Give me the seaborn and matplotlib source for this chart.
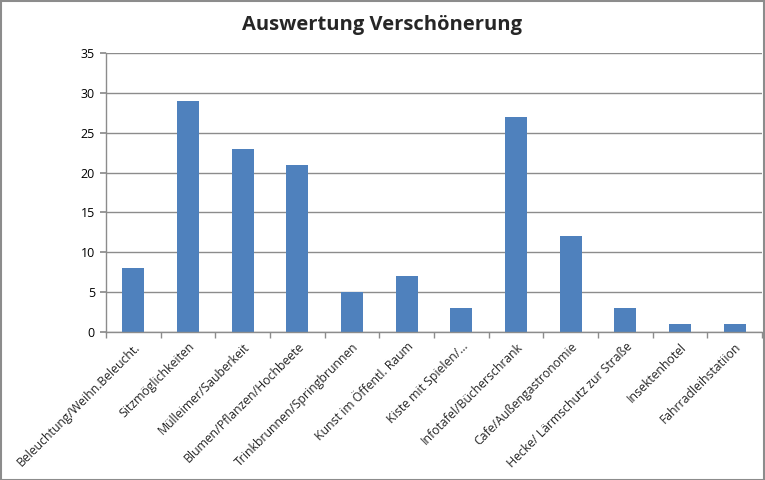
import matplotlib
matplotlib.use("Agg")
import matplotlib.pyplot as plt
import seaborn as sns
import pandas as pd
import numpy as np
from matplotlib.ticker import FixedLocator

categories = ["Beleuchtung/Weihn.Beleucht.", "Sitzmöglichkeiten", "Mülleimer/Sauberkeit",
              "Blumen/Pflanzen/Hochbeete", "Trinkbrunnen/Springbrunnen", "Kunst im Öffentl. Raum",
              "Kiste mit Spielen/...", "Infotafel/Bücherschrank", "Cafe/Außengastronomie",
              "Hecke/ Lärmschutz zur Straße", "Insektenhotel", "Fahrradleihstatiion"]
values = [8, 29, 23, 21, 5, 7, 3, 27, 12, 3, 1, 1]
yticks = [0, 5, 10, 15, 20, 25, 30, 35]
title = "Auswertung Verschönerung"

sns.set_theme(style="white")
plt.rcParams['font.family'] = ['Open Sans', 'DejaVu Sans']

df = pd.DataFrame({"cat": categories, "val": values})
fig = plt.figure(figsize=(7.65, 4.8), dpi=100)
ax = fig.add_axes([106/765, 1-332/480, (762-106)/765, (332-53)/480])
sns.barplot(data=df, x="cat", y="val", color="#4F81BD", width=0.4, saturation=1,
            linewidth=0, ax=ax)

ax.set_ylim(0, 35)
ax.set_xlim(-0.5, len(categories)-0.5)
ax.set_yticks(yticks)
ax.set_yticklabels([str(t) for t in yticks], fontsize=9, color="black")
ax.yaxis.grid(True, color="#8c8c8c", linewidth=1)
ax.set_axisbelow(True)
ax.set_xlabel("")
ax.set_ylabel("")
ax.set_xticks(range(len(categories)))
ax.set_xticklabels(categories, rotation=45, ha="right", rotation_mode="anchor", fontsize=8.8)
ax.tick_params(axis="x", which="major", length=0, pad=6)
ax.xaxis.set_minor_locator(FixedLocator(np.arange(-0.5, len(categories), 1)))
ax.tick_params(axis="x", which="minor", length=4, color="#8c8c8c", bottom=True)
ax.tick_params(axis="y", length=4, color="#8c8c8c", left=True, pad=4)
for s in ["top", "right"]:
    ax.spines[s].set_visible(False)
for s in ["left", "bottom"]:
    ax.spines[s].set_color("#8c8c8c")
    ax.spines[s].set_linewidth(1)

fig.text(382/765, 1-25/480, title, ha="center", va="center", fontsize=14.5, fontweight="bold")
fig.add_artist(plt.Rectangle((0.001, 0.001), 0.998, 0.997, transform=fig.transFigure,
                             fill=False, edgecolor="#8c8c8c", linewidth=1.5))
fig.savefig("out.png", dpi=100)
